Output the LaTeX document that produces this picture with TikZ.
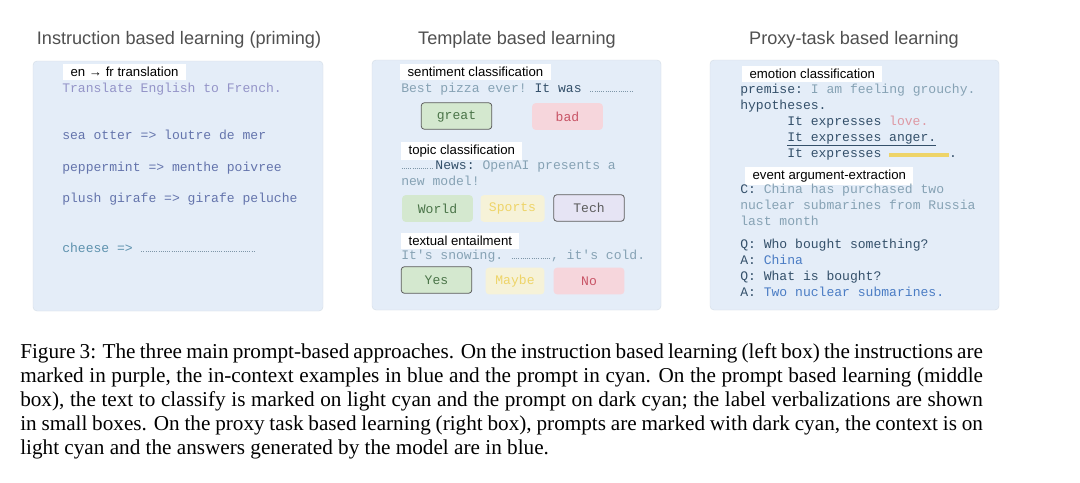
\documentclass[tikz,border=0pt]{standalone}
\usepackage{fontspec}
\setmainfont{Liberation Serif}
\setsansfont{Liberation Sans}
\setmonofont{Liberation Mono}
\newfontfamily\capfont{Liberation Serif}
\definecolor{boxbg}{HTML}{E4EDF8}
\definecolor{titlec}{HTML}{505050}
\definecolor{instr}{HTML}{9494C8}
\definecolor{exblue}{HTML}{6474AC}
\definecolor{promptc}{HTML}{5E92AE}
\definecolor{lightc}{HTML}{86A2B4}
\definecolor{darkc}{HTML}{34506A}
\definecolor{ansblue}{HTML}{4A7CC4}
\definecolor{greenbg}{HTML}{D4E8CF}
\definecolor{greentx}{HTML}{4A7448}
\definecolor{pinkbg}{HTML}{F6D6DC}
\definecolor{pinktx}{HTML}{C85466}
\definecolor{yellowbg}{HTML}{F6F2D8}
\definecolor{yellowtx}{HTML}{EED468}
\definecolor{lavbg}{HTML}{E6E4F4}
\definecolor{chipborder}{HTML}{5C5C5C}
\definecolor{dotc}{HTML}{7E96A8}
\newcommand{\blankfill}[1]{\hbox to #1{\color{dotc}\xleaders\hbox to 1.6pt{\hss\rule{0.7pt}{0.5pt}\hss}\hfill}}
\begin{document}
\begin{tikzpicture}[x=0.75pt,y=-0.75pt,
  panel/.style={fill=boxbg, draw=boxbg!85!gray, line width=0.3pt, rounded corners=3pt},
  title/.style={font=\sffamily\fontsize{13.6}{15}\selectfont, text=titlec, inner sep=0pt},
  tag/.style={fill=white, anchor=west, font=\sffamily\fontsize{9.9}{11}\selectfont, inner xsep=5.5pt, inner ysep=2pt, text=black, minimum height=12pt},
  mono/.style={anchor=base west, font=\ttfamily\fontsize{9.8}{11}\selectfont, inner sep=0pt},
  chip/.style={font=\ttfamily\fontsize{9.8}{11}\selectfont, minimum width=53pt, minimum height=20pt, inner sep=0pt, rounded corners=2.5pt},
  chipline/.style={chip, draw=chipborder, line width=0.6pt},
  captext/.style={anchor=north west, text width=722pt, align=justify, inner sep=0pt, font=\capfont\fontsize{15.9}{18.1}\selectfont}
]
\useasboundingbox (0,0) rectangle (1080,482);
\fill[white] (0,0) rectangle (1080,482);

% titles
\node[title] (t1) at (179,40) {Instruction based learning (priming)};
\node[title] (t2) at (517,40) {Template based learning};
\node[title] (t3) at (854,40) {Proxy-task based learning};

% panels
\draw[panel] (33,61) rectangle (323,311);
\draw[panel] (372,60) rectangle (661,310);
\draw[panel] (710,60) rectangle (999,310);

% left panel
\node[tag] (l0) at (63,72) {en → fr translation};
\node[mono, text=instr] (l1) at (62,92) {Translate English to French.};
\node[mono, text=exblue] (l2) at (62,139) {sea otter => loutre de mer};
\node[mono, text=exblue] (l3) at (62,171) {peppermint => menthe poivree};
\node[mono, text=exblue] (l4) at (62,202) {plush girafe => girafe peluche};
\node[mono, text=promptc] (l5) at (62,252) {cheese => \blankfill{86pt}};

% middle panel
\node[tag] (m0) at (400,72) {sentiment classification};
\node[mono] (m1) at (401,92) {\textcolor{lightc}{Best pizza ever!} \textcolor{darkc}{It was} \blankfill{33pt}};
\node[chipline, fill=greenbg, text=greentx] (great) at (456.5,116) {great};
\node[chip, fill=pinkbg, text=pinktx] (bad) at (567.5,116.5) {bad};
\node[tag] (m2) at (401,151) {topic classification};
\node[mono] (m3) at (401,169) {\blankfill{24pt}\,\textcolor{darkc}{News:} \textcolor{lightc}{OpenAI presents a}};
\node[mono, text=lightc] (m4) at (401,185) {new model!};
\node[chip, fill=greenbg, text=greentx] (world) at (437.5,208.5) {World};
\node[chip, fill=yellowbg, text=yellowtx, minimum width=48pt] (sports) at (512.5,208.5) {Sports};
\node[chipline, fill=lavbg, text=chipborder] (tech) at (589,208) {Tech};
\node[tag] (m5) at (401,241) {textual entailment};
\node[mono] (m6) at (401,259) {\textcolor{lightc}{It's snowing.} \blankfill{30pt}\textcolor{lightc}{, it's cold.}};
\node[chipline, fill=greenbg, text=greentx] (yes) at (436.5,280) {Yes};
\node[chip, fill=yellowbg, text=yellowtx, minimum width=44pt] (maybe) at (515,281) {Maybe};
\node[chip, fill=pinkbg, text=pinktx] (no) at (589,281) {No};

% right panel
\node[tag] (r0) at (742,74) {emotion classification};
\node[mono] (r1) at (740,93) {\textcolor{darkc}{premise:} \textcolor{lightc}{I am feeling grouchy.}};
\node[mono, text=darkc] (r2) at (740,109) {hypotheses.};
\node[mono] (r3) at (787,125) {\textcolor{darkc}{It expresses} \textcolor{pinktx!60!white}{love.}};
\node[mono, text=darkc] (r4) at (787,141) {\underline{It expresses anger.}};
\node[mono] (r5) at (787,157) {\textcolor{darkc}{It expresses} \textcolor{yellowtx}{\rule[0pt]{45pt}{3pt}}\textcolor{darkc}{.}};
\node[tag] (r6) at (745,176) {event argument-extraction};
\node[mono] (r7) at (740,193) {\textcolor{darkc}{C:} \textcolor{lightc}{China has purchased two}};
\node[mono, text=lightc] (r8) at (740,209) {nuclear submarines from Russia};
\node[mono, text=lightc] (r9) at (740,225) {last month};
\node[mono, text=darkc] (r10) at (740,248) {Q: Who bought something?};
\node[mono] (r11) at (740,264) {\textcolor{darkc}{A:} \textcolor{ansblue}{China}};
\node[mono, text=darkc] (r12) at (740,280) {Q: What is bought?};
\node[mono] (r13) at (740,296) {\textcolor{darkc}{A:} \textcolor{ansblue}{Two nuclear submarines.}};

% caption
\node[captext] (caption) at (20,343) {Figure 3: The three main prompt-based approaches. On the instruction based learning (left box) the instructions are\linebreak
marked in purple, the in-context examples in blue and the prompt in cyan. On the prompt based learning (middle\linebreak
box), the text to classify is marked on light cyan and the prompt on dark cyan; the label verbalizations are shown\linebreak
in small boxes. On the proxy task based learning (right box), prompts are marked with dark cyan, the context is on\linebreak
light cyan and the answers generated by the model are in blue.};
\end{tikzpicture}
\end{document}
